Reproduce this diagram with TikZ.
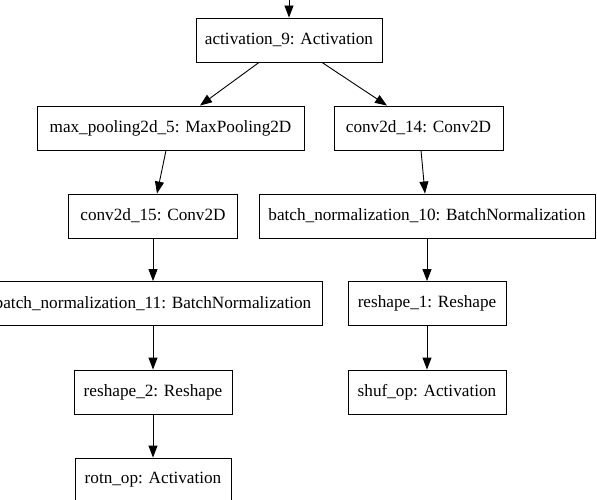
\documentclass[tikz,border=0pt]{standalone}
\usepackage{fontspec}
\setmainfont{Liberation Serif}
\usetikzlibrary{arrows.meta}
\begin{document}
\begin{tikzpicture}[x=1pt,y=-1pt,
  layer/.style={draw, rectangle, line width=0.9pt, minimum height=44pt, inner sep=0pt,
    font=\fontsize{17.2}{20}\selectfont},
  edge/.style={line width=0.9pt, -{Triangle[length=12pt,width=9pt]}}]
\useasboundingbox (0,0) rectangle (597,500);
\clip (0,0) rectangle (597,500);
\node[layer, minimum width=186pt] (act9) at (289,40) {activation\_9: Activation};
\node[layer, minimum width=267pt] (mp) at (170.5,128) {max\_pooling2d\_5: MaxPooling2D};
\node[layer, minimum width=169pt] (c14) at (418.5,128) {conv2d\_14: Conv2D};
\node[layer, minimum width=169pt] (c15) at (153,216) {conv2d\_15: Conv2D};
\node[layer, minimum width=336pt] (bn10) at (427,216) {batch\_normalization\_10: BatchNormalization};
\node[layer, minimum width=338pt] (bn11) at (153,303.5) {batch\_normalization\_11: BatchNormalization};
\node[layer, minimum width=158pt] (r2) at (153,392) {reshape\_2: Reshape};
\node[layer, minimum width=156pt] (rotn) at (153,480) {rotn\_op: Activation};
\node[layer, minimum width=158pt] (r1) at (427,303.5) {reshape\_1: Reshape};
\node[layer, minimum width=158pt] (shuf) at (427,392) {shuf\_op: Activation};
\coordinate (in0) at (289,-5);
\draw[edge] (in0) -- (act9.north);
\draw[edge] ([xshift=-30pt]act9.south) -- ([xshift=29.5pt]mp.north);
\draw[edge] ([xshift=33pt]act9.south) -- ([xshift=-31.5pt]c14.north);
\draw[edge] ([xshift=-4.5pt]mp.south) -- ([xshift=4pt]c15.north);
\draw[edge] ([xshift=2.5pt]c14.south) -- ([xshift=-2pt]bn10.north);
\draw[edge] (c15.south) -- (bn11.north);
\draw[edge] (bn11.south) -- (r2.north);
\draw[edge] (r2.south) -- (rotn.north);
\draw[edge] (bn10.south) -- (r1.north);
\draw[edge] (r1.south) -- (shuf.north);
\end{tikzpicture}
\end{document}
